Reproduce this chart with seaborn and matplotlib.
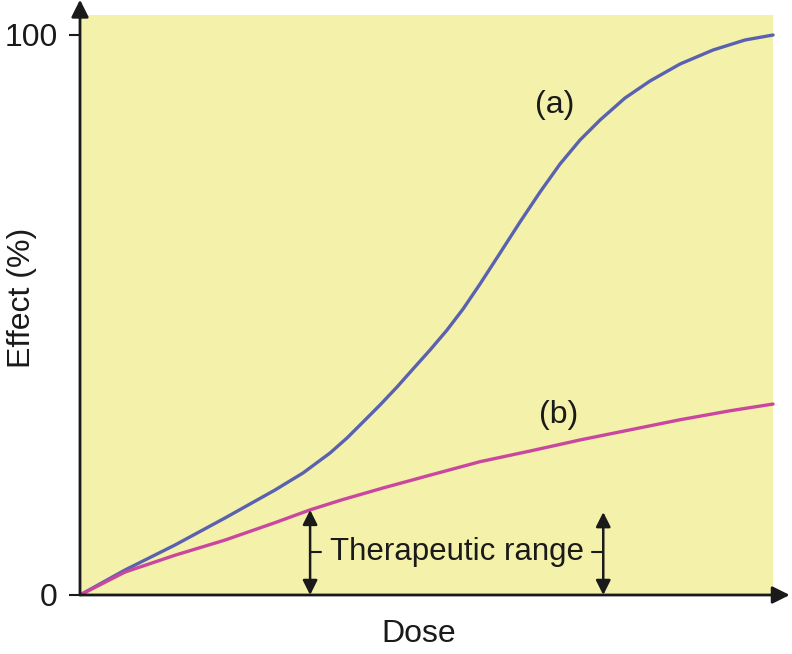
import numpy as np
import pandas as pd
import matplotlib
matplotlib.use("Agg")
import matplotlib.pyplot as plt
import seaborn as sns

# ==========================================
# DATA
# ==========================================

dose_a = [0, 6.49, 13.71, 20.92, 28.14, 32.18, 36.08, 38.53, 40.84, 43.29,
          45.74, 48.05, 50.51, 52.96, 55.27, 57.72, 60.61, 63.49, 66.38,
          69.26, 72.15, 75.04, 78.64, 82.25, 86.58, 91.34, 95.96, 100]
effect_a = [0, 4.46, 8.93, 13.75, 18.75, 21.79, 25.36, 28.04, 30.89, 33.93,
            37.14, 40.36, 43.75, 47.32, 51.07, 55.54, 61.07, 66.61, 71.96,
            76.96, 81.25, 84.82, 88.75, 91.79, 94.82, 97.32, 99.11, 100]

dose_b = [0, 6.5, 13.7, 20.9, 28.1, 33.2, 37.8, 43.7, 50.5, 57.7, 64.9,
          72.2, 79.4, 86.6, 93.8, 100]
effect_b = [0, 4.1, 7.1, 9.8, 12.9, 15.2, 17.0, 19.1, 21.4, 23.8, 25.7,
            27.7, 29.5, 31.3, 32.9, 34.1]

range_low = 33.2
range_high = 75.5
range_top = [15.2, 14.8]

ytick_vals = [0, 100]
ytick_labels = ["0", "100"]

df = pd.concat([
    pd.DataFrame({"Dose": dose_a, "Effect": effect_a, "curve": "(a)"}),
    pd.DataFrame({"Dose": dose_b, "Effect": effect_b, "curve": "(b)"}),
])

# ==========================================
# PLOT
# ==========================================

sns.set_theme(style="white")
plt.rcParams["font.family"] = ["Liberation Sans", "DejaVu Sans"]

fig = plt.figure(figsize=(7.92, 6.54), dpi=100)
ax = fig.add_axes([80 / 792, 59 / 654, 709 / 792, 595 / 654])
ax.set_xlim(0, 102.3)
ax.set_ylim(0, 106.25)
ax.patch.set_alpha(0)

# yellow panel
ax.fill_between([0, 100], 0, 103.6, color="#f4f1aa", lw=0, zorder=0)

sns.lineplot(
    data=df, x="Dose", y="Effect", hue="curve",
    palette={"(a)": "#5a62b0", "(b)": "#c9479f"},
    lw=2.4, legend=False, ax=ax, zorder=3
)

# axes with arrow heads
for s in ax.spines.values():
    s.set_visible(False)
ax.annotate("", xy=(102.4, 0), xytext=(0, 0), annotation_clip=False,
            arrowprops=dict(arrowstyle="-|>", lw=2, color="#1a1a1a",
                            mutation_scale=26, shrinkA=0, shrinkB=0))
ax.annotate("", xy=(0, 106.3), xytext=(0, 0), annotation_clip=False,
            arrowprops=dict(arrowstyle="-|>", lw=2, color="#1a1a1a",
                            mutation_scale=26, shrinkA=0, shrinkB=0))

ax.set_xticks([])
ax.set_yticks(ytick_vals)
ax.set_yticklabels(ytick_labels, fontsize=23, color="#1a1a1a")
ax.tick_params(axis="y", direction="out", length=8, width=1.5,
               color="#1a1a1a", pad=8, left=True)

ax.set_xlabel("Dose", fontsize=23, color="#1a1a1a")
ax.set_ylabel("Effect (%)", fontsize=23, color="#1a1a1a")
ax.xaxis.set_label_coords(0.477, -0.04)
ax.yaxis.set_label_coords(-0.06, 0.5)

# curve labels
ax.text(68.5, 87.5, "(a)", fontsize=23, ha="center", va="center", color="#1a1a1a")
ax.text(69.0, 32.1, "(b)", fontsize=23, ha="center", va="center", color="#1a1a1a")

# therapeutic range
for xr, yt in zip([range_low, range_high], range_top):
    ax.annotate("", xy=(xr, yt), xytext=(xr, 0),
                arrowprops=dict(arrowstyle="<|-|>", lw=1.8, color="#1a1a1a",
                                mutation_scale=22, shrinkA=0, shrinkB=0))
ax.plot([range_low, range_low + 1.6], [7.7, 7.7], color="#1a1a1a", lw=1.5)
ax.plot([range_high - 1.6, range_high], [7.7, 7.7], color="#1a1a1a", lw=1.5)
ax.text((range_low + range_high) / 2, 7.7, "Therapeutic range", fontsize=22.5,
        ha="center", va="center", color="#1a1a1a")

fig.savefig("out.png", dpi=100)
